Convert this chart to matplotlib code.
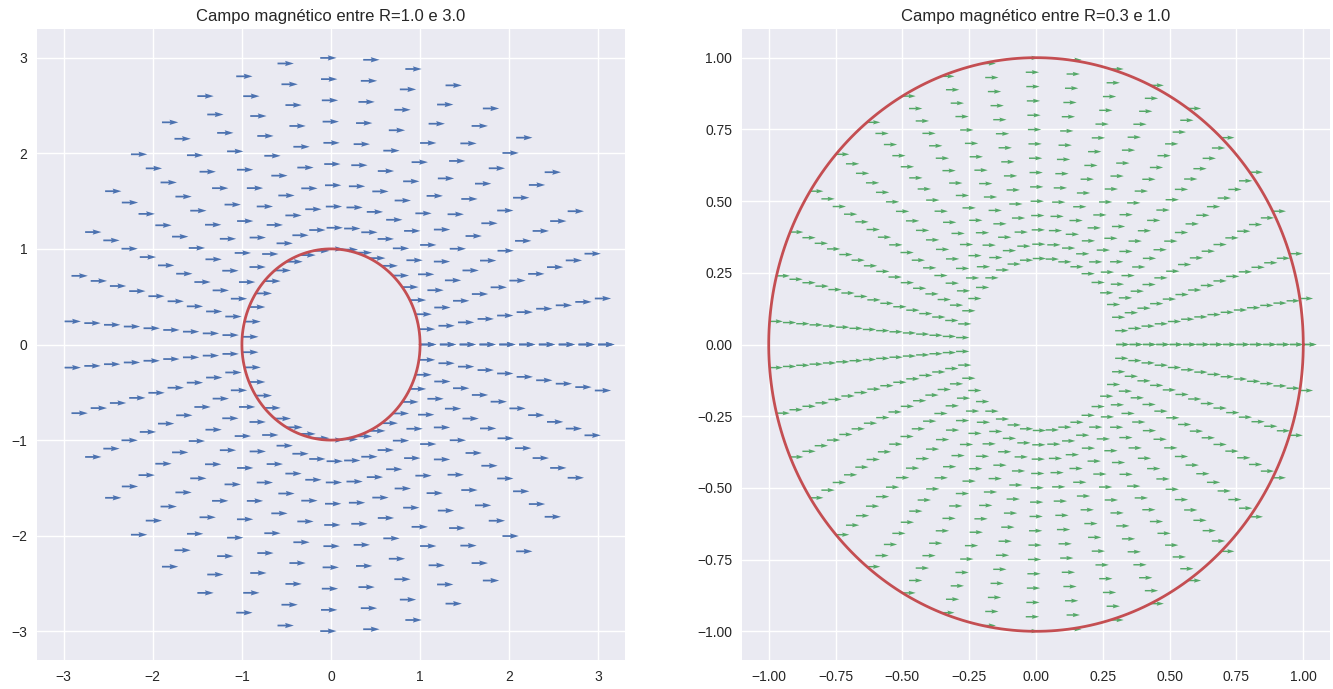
import numpy as np
import matplotlib
matplotlib.use("Agg")
import matplotlib.pyplot as plt

plt.style.use("seaborn-v0_8")
plt.rcParams['font.family'] = ['Liberation Sans Narrow', 'Liberation Sans', 'DejaVu Sans']

# polar grid used for the arrows (angles in degrees)
theta_deg = [0, 9.23, 18.46, 27.69, 36.92, 46.15, 55.38, 64.62, 73.85, 83.08,
             92.31, 101.54, 110.77, 120.0, 129.23, 138.46, 147.69, 156.92, 166.15, 175.38,
             184.62, 193.85, 203.08, 212.31, 221.54, 230.77, 240.0, 249.23, 258.46, 267.69,
             276.92, 286.15, 295.38, 304.62, 313.85, 323.08, 332.31, 341.54, 350.77, 360.0]

radii_left = [1.0, 1.222, 1.444, 1.667, 1.889, 2.111, 2.333, 2.556, 2.778, 3.0]
radii_right = [0.3, 0.35, 0.4, 0.45, 0.5, 0.55, 0.6, 0.65, 0.7, 0.75,
               0.8, 0.85, 0.9, 0.95, 1.0]

# field components (all arrows point in +x)
field_u = 1.0
field_v = 0.0

circle_left = 1.0
circle_right = 1.0

titles = ["Campo magnético entre R=1.0 e 3.0", "Campo magnético entre R=0.3 e 1.0"]
left_yticks = [-3, -2, -1, 0, 1, 2, 3]
right_ticks = [-1.0, -0.75, -0.5, -0.25, 0.0, 0.25, 0.5, 0.75, 1.0]


def polar_grid(radii):
    r, t = np.meshgrid(radii, np.radians(theta_deg))
    return r * np.cos(t), r * np.sin(t)


fig = plt.figure(figsize=(13.33, 6.89), dpi=100)
ax1 = fig.add_axes([37 / 1333, 29 / 689, 588 / 1333, 631 / 689])
ax2 = fig.add_axes([742 / 1333, 29 / 689, 588 / 1333, 631 / 689])

ang = np.linspace(0, 2 * np.pi, 300)

# left panel
x, y = polar_grid(radii_left)
ax1.quiver(x, y, np.full_like(x, field_u), np.full_like(y, field_v), color='#4C72B0')
ax1.plot(circle_left * np.cos(ang), circle_left * np.sin(ang), color='#C44E52', lw=2)
ax1.set_xlim(-3.3, 3.3)
ax1.set_ylim(-3.3, 3.3)
ax1.set_xticks(left_yticks)
ax1.set_yticks(left_yticks)
ax1.set_title(titles[0], fontsize=12)

# right panel
x, y = polar_grid(radii_right)
ax2.quiver(x, y, np.full_like(x, field_u), np.full_like(y, field_v), color='#55A868')
ax2.plot(circle_right * np.cos(ang), circle_right * np.sin(ang), color='#C44E52', lw=2)
ax2.set_xlim(-1.1, 1.1)
ax2.set_ylim(-1.1, 1.1)
ax2.set_xticks(right_ticks)
ax2.set_yticks(right_ticks)
ax2.set_title(titles[1], fontsize=12)

for ax in (ax1, ax2):
    ax.tick_params(labelsize=10)

fig.savefig("out.png", dpi=100)
